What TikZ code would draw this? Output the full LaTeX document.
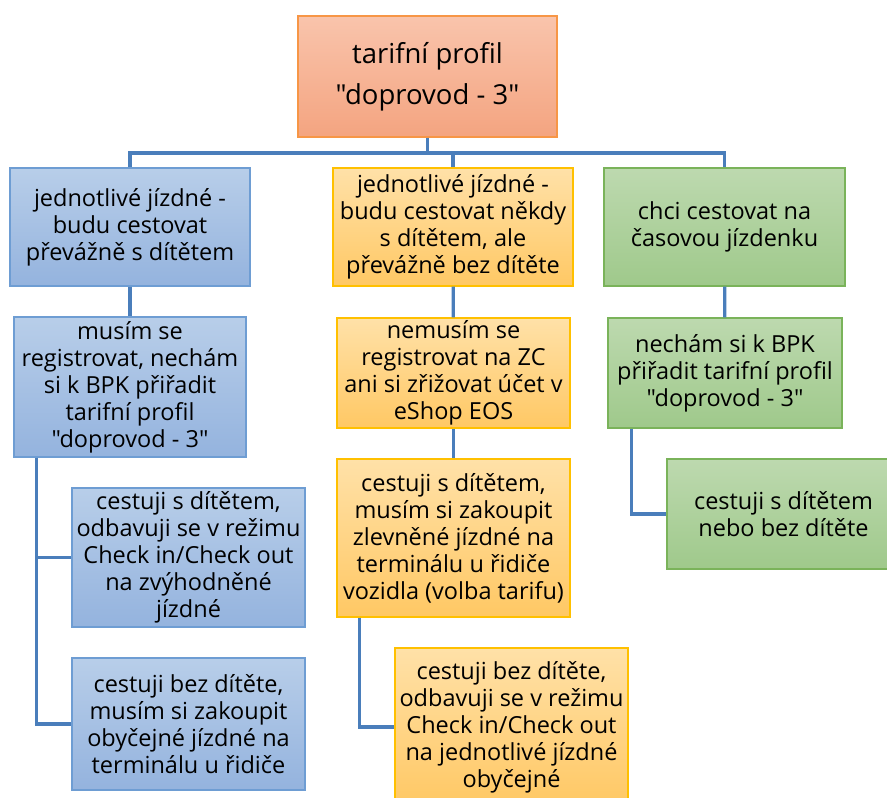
\documentclass[tikz,border=0pt]{standalone}
\usepackage{fontspec}
\setmainfont{Open Sans}[Ligatures=TeXOff]
\definecolor{linkc}{HTML}{4A7EBB}
\definecolor{bluetop}{HTML}{B8CEE9}
\definecolor{bluebot}{HTML}{94B3DE}
\definecolor{blueedge}{HTML}{6E9DD3}
\definecolor{yeltop}{HTML}{FFE1A8}
\definecolor{yelbot}{HTML}{FFC864}
\definecolor{yeledge}{HTML}{FFC000}
\definecolor{grntop}{HTML}{BDD9AF}
\definecolor{grnbot}{HTML}{9FC98B}
\definecolor{grnedge}{HTML}{7AB35A}
\definecolor{rootop}{HTML}{F9C4AC}
\definecolor{roobot}{HTML}{F4A480}
\definecolor{rooedge}{HTML}{F79646}
\begin{document}
\begin{tikzpicture}[x=1pt,y=-1pt,
    box/.style={rectangle,line width=1.4pt,align=center,inner sep=0pt,
        font=\fontsize{23.5}{27}\selectfont},
    bluebox/.style={box,draw=blueedge,top color=bluetop,bottom color=bluebot},
    yelbox/.style={box,draw=yeledge,top color=yeltop,bottom color=yelbot},
    grnbox/.style={box,draw=grnedge,top color=grntop,bottom color=grnbot},
    rootbox/.style={box,draw=rooedge,top color=rootop,bottom color=roobot,
        font=\fontsize{27.5}{41}\selectfont},
    link/.style={draw=linkc,line width=3.2pt}]
    \clip (0,0) rectangle (887,798);
    \fill[white] (0,0) rectangle (887,798);
    % nodes
    \node[rootbox,minimum width=259,minimum height=121] (root) at (427.5,76.5) {tarifní profil\\"doprovod - 3"};
    \node[bluebox,minimum width=240,minimum height=118] (L1) at (130,227) {jednotlivé jízdné -\\budu cestovat\\převážně s dítětem};
    \node[bluebox,minimum width=232,minimum height=140] (L2) at (130,387) {musím se\\registrovat, nechám\\si k BPK přiřadit\\tarifní profil\\"doprovod - 3"};
    \node[bluebox,minimum width=233,minimum height=139] (L3) at (188.5,557.5) {cestuji s dítětem,\\odbavuji se v režimu\\Check in/Check out\\na zvýhodněné\\jízdné};
    \node[bluebox,minimum width=233,minimum height=132] (L4) at (188.5,724) {cestuji bez dítěte,\\musím si zakoupit\\obyčejné jízdné na\\terminálu u řidiče};
    \node[yelbox,minimum width=240,minimum height=118] (M1) at (453,227) {jednotlivé jízdné -\\budu cestovat někdy\\s dítětem, ale\\převážně bez dítěte};
    \node[yelbox,minimum width=233,minimum height=110] (M2) at (453.5,373) {nemusím se\\registrovat na ZC\\ani si zřižovat účet v\\eShop EOS};
    \node[yelbox,minimum width=233,minimum height=158] (M3) at (453.5,538) {cestuji s dítětem,\\musím si zakoupit\\zlevněné jízdné na\\terminálu u řidiče\\vozidla (volba tarifu)};
    \node[yelbox,minimum width=233,minimum height=158] (M4) at (511.5,727) {cestuji bez dítěte,\\odbavuji se v režimu\\Check in/Check out\\na jednotlivé jízdné\\obyčejné};
    \node[grnbox,minimum width=241,minimum height=118] (R1) at (724.5,227) {chci cestovat na\\časovou jízdenku};
    \node[grnbox,minimum width=234,minimum height=110] (R2) at (725,373) {nechám si k BPK\\přiřadit tarifní profil\\"doprovod - 3"};
    \node[grnbox,minimum width=233,minimum height=110] (R3) at (783.5,514) {cestuji s dítětem\\nebo bez dítěte};
    % connectors
    \coordinate (bus) at (0,153);
    \draw[link] (root.south) -- (root.south |- bus);
    \draw[link] (L1.north) -- (L1.north |- bus) -- (R1.north |- bus) -- (R1.north);
    \draw[link] (M1.north) -- (M1.north |- bus);
    \draw[link] (L1) -- (L2);
    \draw[link] ([xshift=23]L2.south west) |- (L3.west);
    \draw[link] ([xshift=23]L2.south west) |- (L4.west);
    \draw[link] (M1) -- (M2);
    \draw[link] (M2) -- (M3);
    \draw[link] ([xshift=23]M3.south west) |- (M4.west);
    \draw[link] (R1) -- (R2);
    \draw[link] ([xshift=24]R2.south west) |- (R3.west);
\end{tikzpicture}
\end{document}
